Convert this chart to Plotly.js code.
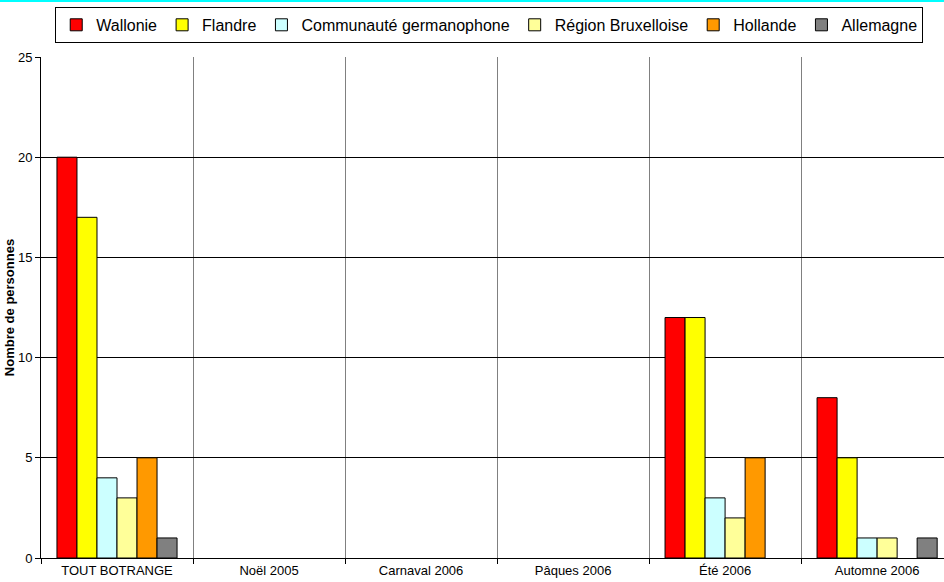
<!DOCTYPE html>
<html>
<head>
<meta charset="utf-8">
<script src="https://cdn.plot.ly/plotly-3.0.1.min.js"></script>
<style>
  html, body { margin: 0; padding: 0; background: #fff; }
  #chart { width: 944px; height: 580px; border-top: 2px solid #00FFFF; }
</style>
</head>
<body>
<div id="chart"></div>
<script>
const categories = ["TOUT BOTRANGE", "Noël 2005", "Carnaval 2006", "Pâques 2006", "Été 2006", "Automne 2006"];
const seriesNames = ["Wallonie", "Flandre", "Communauté germanophone", "Région Bruxelloise", "Hollande", "Allemagne"];
// null = no bar drawn for that period
const wallonie   = [20, null, null, null, 12, 8];
const flandre    = [17, null, null, null, 12, 5];
const germano    = [4, null, null, null, 3, 1];
const bruxelles  = [3, null, null, null, 2, 1];
const hollande   = [5, null, null, null, 5, null];
const allemagne  = [1, null, null, null, null, 1];
const seriesValues = [wallonie, flandre, germano, bruxelles, hollande, allemagne];
const colors = ["#FF0000", "#FFFF00", "#CCFFFF", "#FFFF99", "#FF9900", "#808080"];

const font = "Liberation Sans, Arial, sans-serif";

const traces = seriesNames.map((name, i) => ({
  type: "bar",
  name: name,
  x: categories,
  y: seriesValues[i],
  marker: { color: colors[i], line: { color: "#000000", width: 1 } },
  hoverinfo: "x+y+name"
}));

const layout = {
  width: 944,
  height: 580,
  margin: { l: 41, r: 0, t: 55, b: 24 },
  paper_bgcolor: "#FFFFFF",
  plot_bgcolor: "#FFFFFF",
  barmode: "group",
  bargap: 0.21,
  bargroupgap: 0,
  font: { family: font, color: "#000000", size: 13 },
  showlegend: true,
  legend: {
    orientation: "h",
    x: 0.977, xanchor: "right",
    y: 1.1, yanchor: "top",
    bgcolor: "#FFFFFF",
    bordercolor: "#000000",
    borderwidth: 1,
    font: { family: font, size: 16, color: "#000000" },
    traceorder: "normal"
  },
  xaxis: {
    type: "category",
    range: [-0.5, 5.44],
    tickson: "boundaries",
    ticks: "outside",
    ticklen: 5,
    tickcolor: "#000000",
    showgrid: true,
    gridcolor: "#808080",
    gridwidth: 1,
    showline: true,
    linecolor: "#000000",
    linewidth: 1,
    tickfont: { family: font, size: 13, color: "#000000" },
    automargin: false,
    fixedrange: true
  },
  yaxis: {
    range: [0, 25],
    tickvals: [0, 5, 10, 15, 20, 25],
    ticks: "outside",
    ticklen: 5,
    tickcolor: "#000000",
    showgrid: true,
    gridcolor: "#000000",
    gridwidth: 1,
    zeroline: true,
    zerolinecolor: "#000000",
    showline: true,
    linecolor: "#000000",
    linewidth: 1,
    tickfont: { family: font, size: 13, color: "#000000" },
    title: { text: "<b>Nombre de personnes</b>", font: { family: font, size: 13, color: "#000000" }, standoff: 0 },
    automargin: false,
    fixedrange: true
  }
};

Plotly.newPlot("chart", traces, layout, { displayModeBar: false });
</script>
</body>
</html>
